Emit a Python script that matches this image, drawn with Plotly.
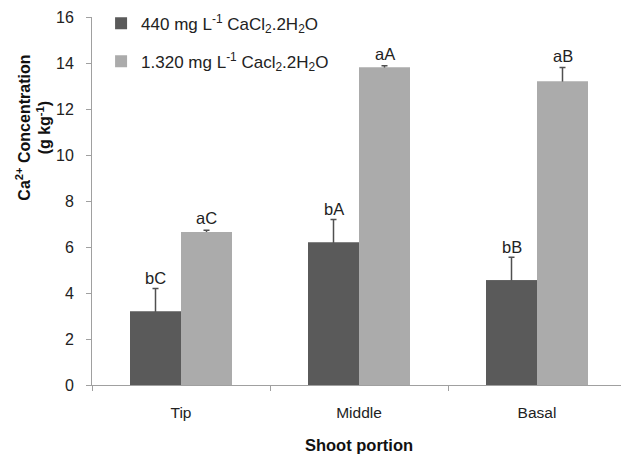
import plotly.graph_objects as go

categories = ["Tip", "Middle", "Basal"]
low_vals = [3.2, 6.2, 4.55]
low_err = [1.0, 1.0, 1.0]
high_vals = [6.65, 13.8, 13.2]
high_err = [0.08, 0.08, 0.6]
low_letters = ["bC", "bA", "bB"]
high_letters = ["aC", "aA", "aB"]
series_names = ["440 mg L<sup>-1</sup> CaCl<sub>2</sub>.2H<sub>2</sub>O",
                "1.320 mg L<sup>-1</sup> Cacl<sub>2</sub>.2H<sub>2</sub>O"]
y_ticks = [0, 2, 4, 6, 8, 10, 12, 14, 16]

FONT = "Liberation Sans, Arial, sans-serif"
DARK = "#5a5a5a"
LIGHT = "#ababab"
ERRC = "#505050"

fig = go.Figure()
series = [(low_vals, low_err, DARK, "g1", "s1"), (high_vals, high_err, LIGHT, "g2", "s2")]
# error bars (drawn first; lower half hidden by the overlaid bars)
for k, (vals, errs, col, grp, og) in enumerate(series):
    fig.add_trace(go.Bar(
        x=categories, y=vals, name=series_names[k], marker_color=col,
        marker_line_width=0, legendgroup=grp, offsetgroup=og, showlegend=False,
        error_y=dict(type="data", array=errs, symmetric=True,
                     color=ERRC, thickness=1.5, width=3),
        hoverinfo="skip",
    ))
for k, (vals, errs, col, grp, og) in enumerate(series):
    fig.add_trace(go.Bar(
        x=categories, y=vals, name=series_names[k], marker_color=col,
        marker_line_width=0, legendgroup=grp, offsetgroup=og,
    ))

annotations = []
bar_px = 25.5
for i, c in enumerate(categories):
    annotations.append(dict(x=c, y=low_vals[i] + low_err[i], xref="x", yref="y",
                            text=low_letters[i], showarrow=False, xshift=-bar_px,
                            yanchor="bottom", yshift=-1,
                            font=dict(family=FONT, size=16.5, color="#222")))
    annotations.append(dict(x=c, y=high_vals[i] + high_err[i], xref="x", yref="y",
                            text=high_letters[i], showarrow=False, xshift=bar_px,
                            yanchor="bottom", yshift=1,
                            font=dict(family=FONT, size=16.5, color="#222")))

annotations.append(dict(
    x=-0.11, y=0.70, xref="paper", yref="paper", xanchor="center", yanchor="middle",
    text="<b>Ca<sup>2+</sup> Concentration<br>(g kg<sup>-1</sup>)</b>", textangle=-90,
    showarrow=False, font=dict(family=FONT, size=16, color="#111"),
))

fig.update_layout(
    width=621, height=447,
    margin=dict(l=84, r=3, t=9, b=70, autoexpand=False),
    paper_bgcolor="white", plot_bgcolor="white",
    barmode="group", bargap=0.427, bargroupgap=0,
    font=dict(family=FONT, size=14, color="#222"),
    showlegend=True,
    legend=dict(x=0.017, y=1.031, xanchor="left", yanchor="top",
                font=dict(family=FONT, size=17, color="#222"),
                bgcolor="rgba(0,0,0,0)", tracegroupgap=13, itemwidth=30),
    annotations=annotations,
    xaxis=dict(
        showline=True, linecolor="#a0a0a0", linewidth=1, automargin=False,
        ticks="outside", tickson="boundaries", ticklen=5, tickcolor="#a0a0a0",
        tickfont=dict(family=FONT, size=15.5, color="#222"), ticklabelstandoff=13,
        title=dict(text="<b>Shoot portion</b>", font=dict(family=FONT, size=16.5, color="#111"),
                   standoff=19),
    ),
    yaxis=dict(
        range=[0, 16], tickvals=y_ticks, showgrid=False, zeroline=False, automargin=False,
        showline=True, linecolor="#a0a0a0", linewidth=1,
        ticks="outside", ticklen=5, tickcolor="#a0a0a0",
        tickfont=dict(family=FONT, size=16, color="#222"), ticklabelstandoff=9,
    ),
)

fig.write_html("out.html")
